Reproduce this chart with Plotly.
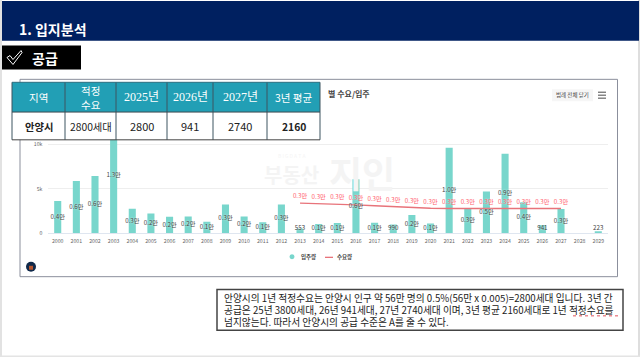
import plotly.graph_objects as go

W, H = 640, 360
KR = "Noto Sans CJK KR"

years = [str(y) for y in range(2000, 2030)]
supply = [3650, 5900, 6450, 13000, 2760, 2240, 1870, 1900, 1300, 3250, 1900, 1250, 3250, 553, 1050,
          1150, 6080, 1200, 990, 2050, 1100, 9630, 2800, 4700, 8950, 3500, 941, 2740, None, 223]
supply_labels = ["0.4만", "0.6만", "0.6만", "1.3만", "0.3만", "0.2만", "0.2만", "0.2만", "0.1만", "0.3만",
                 "0.2만", "0.1만", "0.3만", "553", "0.1만", "0.1만", "0.6만", "0.1만", "990", "0.2만",
                 "0.1만", "1.0만", "0.3만", "0.5만", "0.9만", "0.4만", "941", "0.3만", "", "223"]
demand_years = [str(y) for y in range(2013, 2028)]
demand = [3400, 3350, 3300, 3200, 3100, 3000, 2900, 2820, 2800, 2800, 2800, 2800, 2800, 2800, 2800]
demand_labels = ["0.3만"] * len(demand)

table_header = ["지역", "적정<br>수요", "2025년", "2026년", "2027년", "3년 평균"]
table_row = ["안양시", "2800세대", "2800", "941", "2740", "2160"]
table_edges = [12, 65, 116, 167, 213, 267, 320]
table_serif = [False, False, True, True, True, False]
table_bold = [True, False, False, False, False, True]

note_lines = [
    "안양시의 1년 적정수요는 안양시 인구 약 56만 명의 0.5%(56만 x 0.005)=2800세대 입니다. 3년 간",
    "공급은 25년 3800세대, 26년 941세대, 27년 2740세대 이며, 3년 평균 2160세대로 1년 적정수요를",
    "넘지않는다. 따라서 안양시의 공급 수준은 A를 줄 수 있다.",
]


def px(x):
    return x / W


def py(y):
    return 1 - y / H


shapes = []
annots = []


def rect(x0, y0, x1, y1, fill=None, line=None, lw=1):
    shapes.append(dict(type="rect", xref="paper", yref="paper", x0=px(x0), x1=px(x1), y0=py(y0), y1=py(y1),
                       fillcolor=fill or "rgba(0,0,0,0)", line=dict(color=line or "rgba(0,0,0,0)", width=lw if line else 0),
                       layer="above"))


def seg(x0, y0, x1, y1, color, lw=1, dash="solid"):
    shapes.append(dict(type="line", xref="paper", yref="paper", x0=px(x0), x1=px(x1), y0=py(y0), y1=py(y1),
                       line=dict(color=color, width=lw, dash=dash), layer="above"))


def text(x, y, s, size, color="#333333", anchor="center", bold=False, family=KR, **kw):
    annots.append(dict(xref="paper", yref="paper", x=px(x), y=py(y), text=f"<b>{s}</b>" if bold else s,
                       showarrow=False, xanchor=anchor, yanchor="middle",
                       font=dict(size=size, color=color, family=family), **kw))


# slide frame and header
rect(0, 0, 2, 360, fill="#e2e2e2")
rect(638, 0, 640, 360, fill="#dedede")
rect(0, 358.5, 640, 360, fill="#e4e4e4")
rect(2, 1, 639, 41, fill="#002060")
text(17, 29, "1. 입지분석", 14, "#ffffff", "left", True)
rect(2, 46, 81, 70, fill="#000000")
shapes.append(dict(type="path", xref="paper", yref="paper", layer="above",
                   path=(f"M {px(7)} {py(58)} L {px(10)} {py(56)} L {px(13)} {py(60)} L {px(21)} {py(51)} "
                         f"L {px(22)} {py(53)} L {px(13)} {py(65)} Z"),
                   line=dict(color="#ffffff", width=1), fillcolor="rgba(0,0,0,0)"))
text(30, 58, "공급", 14, "#ffffff", "left", True)

# chart card
rect(20, 80, 617.5, 279, line="#8b8f9c", lw=1)
text(372, 94, "별 수요/입주", 8, "#444444", "right", True)
rect(552, 90, 593, 102, fill="#f6f6f6")
text(572.5, 96, "범례 전체 닫기", 5.5, "#444444")
for yy in (93, 96, 99):
    seg(598, yy, 606, yy, "#666666", 1.2)

# watermark
text(292, 157, "B I G D A T A", 5, "#f5f5f5")
text(291.5, 176, "부동산", 20, "#f4f4f4", bold=True)
text(361.5, 173, "지인", 36, "#f4f4f4", bold=True)

# legend
shapes.append(dict(type="circle", xref="paper", yref="paper", layer="above", x0=px(289.5), x1=px(294.5),
                   y0=py(256.5), y1=py(261.5), fillcolor="#78d6cc", line=dict(width=0)))
text(299, 259.5, "입주량", 5.5, "#444444", "left", True)
seg(325, 259.5, 333, 259.5, "#e8737a", 1.3)
text(335, 259.5, "수요량", 5.5, "#444444", "left", True)

# logo
shapes.append(dict(type="circle", xref="paper", yref="paper", layer="above", x0=px(26), x1=px(36),
                   y0=py(264), y1=py(274), fillcolor="#10294a", line=dict(width=0)))
rect(29, 268, 33, 272, fill="#b5552e")

# table
rect(12, 83, 320, 113, fill="#229fb5")
rect(12, 113, 320, 141, fill="#ffffff")
for i, (h, r) in enumerate(zip(table_header, table_row)):
    cx = (table_edges[i] + table_edges[i + 1]) / 2
    fam = "Liberation Serif, " + KR if table_serif[i] else KR
    text(cx, 98, h, 12 if table_serif[i] else 10.5, "#ffffff", family=fam)
    text(cx, 127.5, r, 11 if table_serif[i] else 10.3, "#222222", bold=table_bold[i])
for xe in table_edges:
    seg(xe, 83, xe, 141, "#3d5560", 1)
seg(12, 83, 320, 83, "#2b6f80", 1)
seg(12, 113, 320, 113, "#3d4a50", 1)
seg(12, 141, 320, 141, "#444444", 1)

# note box
rect(217, 292, 623, 333, fill="#ffffff", line="#444444", lw=1.5)
for s, yy in zip(note_lines, (300.5, 312.5, 325)):
    text(222, yy, s, 9.7, "#222222", "left")
seg(573, 318.5, 618, 318.5, "#e0525c", 1, "dot")

fig = go.Figure()
fig.add_bar(x=years, y=supply, marker=dict(color="#78d6cc", line=dict(width=0)), hoverinfo="skip", showlegend=False)
fig.add_scatter(x=demand_years, y=demand, mode="lines", line=dict(color="#e8737a", width=1.4),
                hoverinfo="skip", showlegend=False)
fig.add_scatter(x=years, y=[max((v or 0) / 2, 500) for v in supply], mode="text", text=supply_labels,
                textposition="middle center", hoverinfo="skip", showlegend=False, cliponaxis=False,
                textfont=dict(size=6.2, color="#444444", family=KR, shadow="0px 0px 2px #ffffff"))
fig.add_scatter(x=demand_years, y=[d + 350 for d in demand], mode="text", text=demand_labels, textposition="top center",
                hoverinfo="skip", showlegend=False, cliponaxis=False,
                textfont=dict(size=6.2, color="#ff5c6c", family=KR, shadow="0px 0px 2px #ffffff"))

fig.update_layout(
    width=W, height=H, autosize=False, margin=dict(l=0, r=0, t=0, b=0),
    paper_bgcolor="#ffffff", plot_bgcolor="#ffffff", bargap=0.62,
    shapes=shapes, annotations=annots, showlegend=False,
    xaxis=dict(domain=[px(48.4), px(607.6)], type="category", range=[-0.5, 29.5],
               categoryorder="array", categoryarray=years,
               tickfont=dict(size=5.2, color="#666666", family=KR),
               showgrid=False, showline=True, linecolor="#dfe6f0", linewidth=1, ticks="", tickangle=0,
               ticklabelstandoff=2, fixedrange=True),
    yaxis=dict(domain=[py(235.3), py(114.3)], range=[0, 13500], tickvals=[0, 5000, 10000],
               ticktext=["0", "5k", "10k"], tickfont=dict(size=5.2, color="#666666", family=KR),
               showgrid=True, gridcolor="#eeeeee", gridwidth=1, zeroline=False, ticks="", fixedrange=True,
               ticklabelstandoff=5),
)
fig.write_html("out.html", config=dict(displayModeBar=False),
               post_script="document.body.style.margin='0';document.body.style.overflow='hidden';")
